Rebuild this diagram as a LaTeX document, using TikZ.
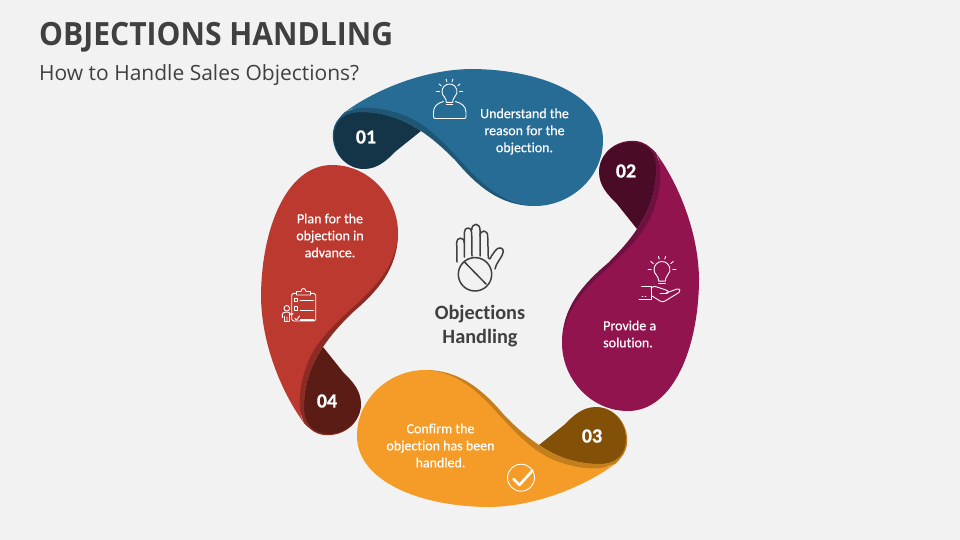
\documentclass[tikz,border=0pt]{standalone}
\usepackage{fontspec}
\setmainfont{Carlito}[Ligatures=NoCommon]
\newfontfamily\headfont{Open Sans}
\newfontfamily\headboldfont[FakeStretch=0.94]{Open Sans Bold}
\newfontfamily\bodyfont[FakeBold=0.55,Ligatures=NoCommon]{Carlito}
\newfontfamily\numfont[FakeBold=0.6]{Carlito Bold}
\definecolor{pageBg}{HTML}{F2F2F2}
\definecolor{inkGrey}{HTML}{404040}
\definecolor{blueMain}{HTML}{266C94}\definecolor{blueBand}{HTML}{1F5675}\definecolor{blueDark}{HTML}{143548}
\definecolor{magMain}{HTML}{92144F}\definecolor{magBand}{HTML}{6E1040}\definecolor{magDark}{HTML}{4A0B27}
\definecolor{oraMain}{HTML}{F49C27}\definecolor{oraBand}{HTML}{C47E1C}\definecolor{oraDark}{HTML}{835007}
\definecolor{redMain}{HTML}{BC392F}\definecolor{redBand}{HTML}{8C2B24}\definecolor{redDark}{HTML}{5B1C16}
\tikzset{
  bodytext/.style={text=white,font=\bodyfont\fontsize{14}{17}\selectfont,align=center,inner sep=0pt},
  numtext/.style={text=white,font=\numfont\fontsize{20}{20}\selectfont,inner sep=0pt},
  iconline/.style={draw=white,line width=0.9pt,line cap=round,line join=round,fill=none},
  handline/.style={draw=inkGrey,line width=1.5pt,line cap=round,line join=round,fill=none},
}
% one petal: angle, main, band, dark
\newcommand{\teardrop}{(421,131) .. controls (405,120) and (385,112) .. (360,112)
      .. controls (343,112) and (334,122) .. (334,136)
      .. controls (334,155) and (348,169) .. (364,169)
      .. controls (378,169) and (387,160) .. (396,151) -- cycle}
\newcommand{\petal}[4]{%
  \begin{scope}[rotate around={#1:(480,288)}]
    \fill[#3,shift={(-1.2,-0.5)}] \teardrop;
    \fill[#4] \teardrop;
    \fill[#3] (333,136) .. controls (334,125) and (338,118) .. (345,112)
      -- (470,69) -- (603,140) -- (535,206)
      .. controls (500,206) and (477,186) .. (455,160)
      .. controls (443,148) and (433,139) .. (421,131)
      .. controls (405,120) and (385,112) .. (360,112)
      .. controls (343,112) and (334,122) .. (334,136) -- cycle;
    \fill[#2] (345,112) .. controls (372,92) and (420,70) .. (470,69)
      .. controls (540,69) and (603,95) .. (603,140)
      .. controls (603,178) and (570,206) .. (535,206)
      .. controls (505,205) and (483,186) .. (460,160)
      .. controls (443,142) and (425,121) .. (398,113)
      .. controls (380,107) and (358,105) .. (345,112) -- cycle;
  \end{scope}}
\newcommand{\bulb}[3]{% cx cy r
  \begin{scope}[shift={(#1,#2)}]
    \draw[iconline] (-0.68*#3,0.73*#3) arc[start angle=227,end angle=-47,radius=#3 pt];
    \draw[iconline] (-0.68*#3,0.73*#3) .. controls (-0.45*#3,1*#3) and (-0.45*#3,1.2*#3) .. (-0.42*#3,1.45*#3) -- (0.42*#3,1.45*#3)
       .. controls (0.45*#3,1.2*#3) and (0.45*#3,1*#3) .. (0.68*#3,0.73*#3);
    \draw[iconline] (-0.42*#3,1.7*#3) -- (0.42*#3,1.7*#3);
    \draw[iconline] (-1.75*#3,0) -- (-1.35*#3,0) (1.35*#3,0) -- (1.75*#3,0);
    \draw[iconline] (-1.4*#3,-1*#3) -- (-1.1*#3,-0.75*#3) (1.4*#3,-1*#3) -- (1.1*#3,-0.75*#3);
    \draw[iconline] (-0.45*#3,-1.65*#3) -- (-0.35*#3,-1.3*#3) (0.45*#3,-1.65*#3) -- (0.35*#3,-1.3*#3);
  \end{scope}}
\begin{document}
\begin{tikzpicture}[x=1pt,y=-1pt]
\useasboundingbox (0,0) rectangle (960,540);
\fill[pageBg] (0,0) rectangle (960,540);
\node[anchor=base west,inner sep=0pt,text=inkGrey,font=\headboldfont\fontsize{32}{32}\selectfont] (title) at (39,46) {OBJECTIONS HANDLING};
\node[anchor=base west,inner sep=0pt,text=inkGrey,font=\headfont\fontsize{21}{21}\selectfont] (subtitle) at (39,80.7) {How to Handle Sales Objections?};
\petal{0}{blueMain}{blueBand}{blueDark}
\petal{-90}{magMain}{magBand}{magDark}
\petal{180}{oraMain}{oraBand}{oraDark}
\petal{90}{redMain}{redBand}{redDark}
\node[numtext] (n1) at (366,137) {01};
\node[numtext] (n2) at (626,171) {02};
\node[numtext] (n3) at (592,436) {03};
\node[numtext] (n4) at (327,401) {04};
\node[bodytext] (t1) at (524.5,131.5) {Understand the\\reason for the\\objection.};
\node[bodytext,align=left,anchor=west] (t2) at (603,334) {Provide a\\solution.};
\node[bodytext] (t3) at (440.5,445.5) {Confirm the\\objection has been\\handled.};
\node[bodytext] (t4) at (330,235.5) {Plan for the\\objection in\\advance.};
\node[text=inkGrey,font=\fontsize{20.3}{24}\selectfont\bfseries,align=center,inner sep=0pt] (centre) at (480,326) {Objections\\Handling};
% icon 1
\bulb{449.5}{91.5}{7.5}
\draw[iconline] (443.5,101.5) .. controls (437,103) and (433.5,107) .. (433.5,112) -- (433.5,116.5) .. controls (433.5,118) and (434,118.5) .. (435.5,118.5) -- (464,118.5) .. controls (465.5,118.5) and (466,118) .. (466,116.5) -- (466,112) .. controls (466,107) and (462,103) .. (455.5,101.5);
% icon 2
\bulb{662}{269.5}{8}
\draw[iconline] (641.5,286) -- (651,286) -- (651,299) (639,299) -- (651.5,299);
\draw[iconline] (651,288) .. controls (653,286) and (655,286) .. (657,287) -- (666,290) .. controls (669,291) and (669,293.5) .. (666,293.5) -- (660,293.5);
\draw[iconline] (666,293) -- (677,289) .. controls (680,288.5) and (681,291) .. (679,292.5) -- (665,301) .. controls (663,302) and (662,302) .. (660,301) -- (652,296);
\draw[iconline] (642,296) -- (643,296) (645,296) -- (646,296);
% icon 3
\draw[iconline] (521,477.7) circle[radius=13.5pt];
\draw[white,line width=2.6pt,line join=round,line cap=round] (513.5,479) -- (519.5,485) -- (532.5,470.5);
% icon 4
\draw[iconline] (296.5,293.3) -- (293.5,293.3) .. controls (292.3,293.3) and (291.7,294) .. (291.7,295) -- (291.7,319.5) .. controls (291.7,320.5) and (292.3,321) .. (293.5,321) -- (314,321) .. controls (315,321) and (315.7,320.5) .. (315.7,319.5) -- (315.7,295) .. controls (315.7,294) and (315,293.3) .. (314,293.3) -- (310.5,293.3);
\draw[iconline] (296.5,295) -- (296.5,291.5) -- (301,291.5) .. controls (301.5,287.5) and (305.5,287.5) .. (306,291.5) -- (310.5,291.5) -- (310.5,295) -- cycle;
\draw[iconline] (294.5,298.3) rectangle (297.7,301.7) (300,300.7) -- (313.5,300.7);
\draw[iconline] (294.5,306.7) rectangle (297.7,310) (300,310) -- (313.5,310);
\draw[iconline] (295,318.5) -- (296.5,320) -- (299.5,316);
\draw[white,line width=1.3pt] (300,320) -- (313.5,320);
\draw[iconline] (286.8,308.3) circle[radius=2.8pt];
\draw[iconline] (284.5,321.5) -- (284.5,316.5) (282.3,317.5) -- (282.3,314.5) .. controls (282.3,313) and (283.5,312.2) .. (285,312.2) -- (288.5,312.2) -- (291.5,315) -- (293,313.5) (289.5,321.5) -- (289.5,314.5) (284.5,321.5) -- (289.5,321.5) (287,321.5) -- (287,317);
% centre hand
\draw[handline] (457,262) -- (456.7,243) .. controls (456.7,236.5) and (464.3,236.5) .. (464.3,243) -- (464.3,257);
\draw[handline] (464.3,243) -- (464.3,232.5) .. controls (464.3,226.5) and (471.7,226.5) .. (471.7,232.5) -- (472,256);
\draw[handline] (471.7,230) .. controls (471.7,222.5) and (480,222.5) .. (480,230) -- (480,256);
\draw[handline] (480,236) .. controls (480,229.5) and (487.7,229.5) .. (487.7,236) -- (488.3,258);
\draw[handline] (488.3,258) .. controls (490,260) and (490,259) .. (491.5,256) -- (495,251) .. controls (498,246) and (504,247.5) .. (503.3,252) .. controls (502,258) and (497,261) .. (495,269);
\draw[handline] (475,274.3) circle[radius=16.7pt];
\draw[handline] (464.5,262) -- (486,284);
\end{tikzpicture}
\end{document}
